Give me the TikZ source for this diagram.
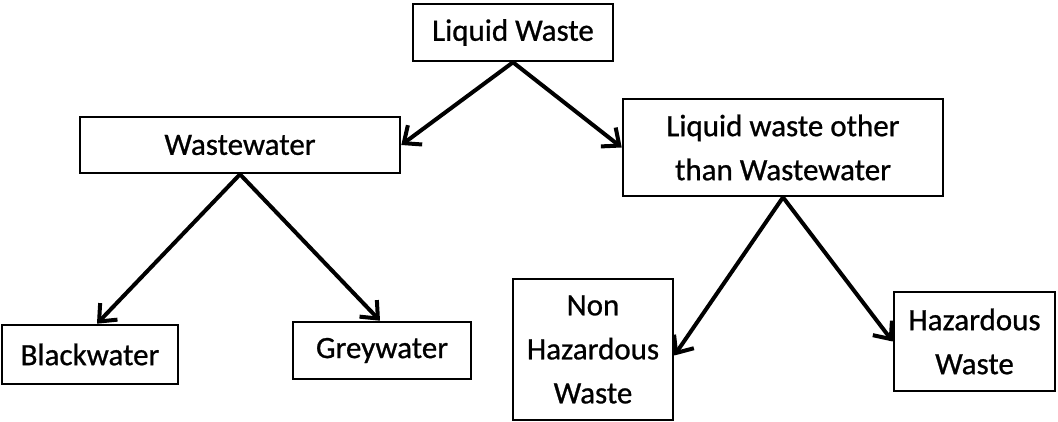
\documentclass[tikz,border=0pt]{standalone}
\usepackage{fontspec}
\setmainfont{Carlito}[FakeBold=0.8]
\usetikzlibrary{arrows.meta}
\begin{document}
\begin{tikzpicture}[x=1pt,y=-1pt,
  box/.style={draw=black, line width=2.6pt, inner sep=0pt, align=center,
    font=\fontsize{31}{44}\selectfont, text=black},
  arr/.style={draw=black, line width=4pt,
    -{Straight Barb[length=14pt,width=24pt,line width=4pt]}}]
\useasboundingbox (0,0) rectangle (1058,422);
\node[box, minimum width=200pt, minimum height=57pt] (lw) at (513,32.5) {Liquid Waste};
\node[box, minimum width=320pt, minimum height=56pt] (ww) at (240,145) {Wastewater};
\node[box, minimum width=320pt, minimum height=97pt] (ot) at (783,147.5) {Liquid waste other\\than Wastewater};
\node[box, minimum width=176pt, minimum height=59pt] (bw) at (90,354.5) {Blackwater};
\node[box, minimum width=178pt, minimum height=57pt] (gw) at (382,350.5) {Greywater};
\node[box, minimum width=160pt, minimum height=141pt] (nh) at (593,349.5) {Non\\Hazardous\\Waste};
\node[box, minimum width=161pt, minimum height=99pt] (hw) at (974.5,341.5) {Hazardous\\Waste};
\draw[arr] (lw.south) -- (ww.east);
\draw[arr] (lw.south) -- (ot.west);
\draw[arr] (ww.south) -- ([xshift=7pt]bw.north);
\draw[arr] (ww.south) -- ([xshift=-2pt]gw.north);
\draw[arr] (ot.south) -- ([yshift=-6pt]nh.east);
\draw[arr] (ot.south) -- (hw.west);
\end{tikzpicture}
\end{document}
